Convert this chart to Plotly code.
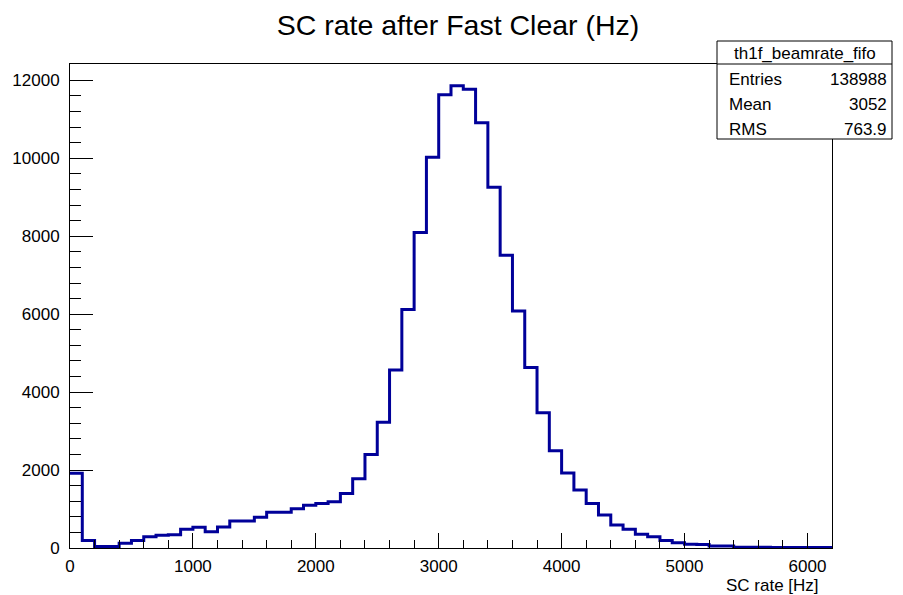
import plotly.graph_objects as go

# ---- data ----
hist_name = "th1f_beamrate_fifo"
title_text = "SC rate after Fast Clear (Hz)"
x_title = "SC rate [Hz]"
bin_width = 100
counts = [1920, 190, 40, 40, 120, 190, 290, 330, 340, 480,
          530, 420, 540, 690, 690, 790, 915, 920, 1010, 1100,
          1145, 1190, 1400, 1780, 2400, 3225, 4565, 6120, 8095, 10030,
          11630, 11860, 11770, 10910, 9260, 7510, 6080, 4630, 3470, 2495,
          1925, 1487, 1145, 846, 590, 480, 350, 290, 190, 137,
          95, 90, 50, 50, 20, 20, 20, 15, 15, 15,
          10, 10]
stat_labels = ["Entries", "Mean", "RMS"]
stat_values = ["138988", "3052", "763.9"]

edges = [i * bin_width for i in range(len(counts) + 1)]
xs = edges
ys = counts + [counts[-1]]

FONT = "Liberation Sans, Arial, Helvetica, sans-serif"
W, H = 903, 595
L, R, T, B = 70, 71, 64, 47
pw, ph = W - L - R, H - T - B

def px(xpix):
    return (xpix - L) / pw

def py(ypix):
    return (H - B - ypix) / ph

fig = go.Figure()
fig.add_trace(go.Scatter(
    x=xs, y=ys, mode="lines", line=dict(color="#000099", width=3, shape="hv"),
    hoverinfo="skip", showlegend=False, cliponaxis=True))

fig.update_layout(
    width=W, height=H,
    margin=dict(l=L, r=R, t=T, b=B, pad=0),
    paper_bgcolor="white", plot_bgcolor="white",
    font=dict(family=FONT, size=17, color="black"),
    title=dict(text=title_text, x=458 / W, xanchor="center", y=1 - 25 / H,
               yanchor="middle", font=dict(family=FONT, size=28.5, color="black")),
    showlegend=False,
)
fig.update_xaxes(
    range=[0, edges[-1]], showgrid=False, zeroline=False,
    showline=True, linecolor="black", linewidth=1, mirror=True,
    ticks="inside", ticklen=15, tickwidth=1, tickcolor="black",
    dtick=1000, tick0=0, tickformat="d", tickfont=dict(size=17, family=FONT),
    minor=dict(ticks="inside", ticklen=8, dtick=200, tickcolor="black", tickwidth=1, showgrid=False),
    ticklabelstandoff=3,
)
fig.update_yaxes(
    range=[0, 12420], showgrid=False, zeroline=False,
    showline=True, linecolor="black", linewidth=1, mirror=True,
    ticks="inside", ticklen=23, tickwidth=1, tickcolor="black",
    dtick=2000, tick0=0, tickformat="d", tickfont=dict(size=17, family=FONT),
    minor=dict(ticks="inside", ticklen=11, dtick=400, tickcolor="black", tickwidth=1, showgrid=False),
    ticklabelstandoff=6,
)

# x axis title at bottom right
fig.add_annotation(text=x_title, xref="paper", yref="paper", x=px(821), y=py(585),
                   xanchor="right", yanchor="middle", showarrow=False,
                   font=dict(family=FONT, size=17, color="black"))

# stats box
bx0, bx1, by0, by1, bsep = 717, 892, 41, 139, 64
fig.add_shape(type="rect", xref="paper", yref="paper",
              x0=px(bx0), x1=px(bx1), y0=py(by1), y1=py(by0),
              line=dict(color="black", width=1), fillcolor="white", layer="above")
fig.add_shape(type="line", xref="paper", yref="paper",
              x0=px(bx0), x1=px(bx1), y0=py(bsep), y1=py(bsep),
              line=dict(color="black", width=1), layer="above")
fig.add_annotation(text=hist_name, xref="paper", yref="paper",
                   x=px((bx0 + bx1) / 2), y=py(54), xanchor="center", yanchor="middle",
                   showarrow=False, font=dict(family=FONT, size=17, color="black"))
row_h = (by1 - bsep) / len(stat_labels)
for i, (lab, val) in enumerate(zip(stat_labels, stat_values)):
    yc = bsep + row_h * (i + 0.5) + 3
    fig.add_annotation(text=lab, xref="paper", yref="paper", x=px(727), y=py(yc),
                       xanchor="left", yanchor="middle", showarrow=False,
                       font=dict(family=FONT, size=17, color="black"))
    fig.add_annotation(text=val, xref="paper", yref="paper", x=px(889), y=py(yc),
                       xanchor="right", yanchor="middle", showarrow=False,
                       font=dict(family=FONT, size=17, color="black"))

fig.write_html("out.html")
